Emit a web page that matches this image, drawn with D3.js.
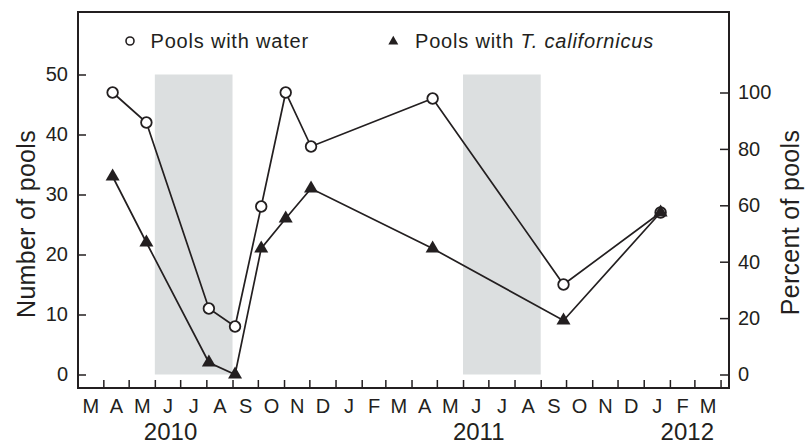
<!DOCTYPE html>
<html>
<head>
<meta charset="utf-8">
<script src="https://cdn.jsdelivr.net/npm/d3@7"></script>
<style>
  body { margin: 0; background: #fff; }
  svg { display: block; }
  text { font-family: "Liberation Sans", Arial, Helvetica, sans-serif; fill: #231f20; }
</style>
</head>
<body>
<svg id="chart" width="809" height="442"></svg>
<script>
// Survey dates and pool counts
const sampleDates = ["2010-04-12", "2010-05-22", "2010-08-04", "2010-09-04", "2010-10-05",
                     "2010-11-03", "2010-12-03", "2011-04-26", "2011-09-28", "2012-01-21"];
const poolsWithWater = [47, 42, 11, 8, 28, 47, 38, 46, 15, 27];
const poolsWithCopepods = [33, 22, 2, 0, 21, 26, 31, 21, 9, 27];
const totalPools = 47;

// Axis ticks and labels
const numberTicks = [0, 10, 20, 30, 40, 50];
const percentTicks = [0, 20, 40, 60, 80, 100];
const monthLabels = ["M", "A", "M", "J", "J", "A", "S", "O", "N", "D", "J", "F",
                     "M", "A", "M", "J", "J", "A", "S", "O", "N", "D", "J", "F", "M"];
const yearLabels = ["2010", "2011", "2012"];
const yearLabelDates = ["2010-06-19", "2011-06-19", "2012-02-21"];

// Dry summer periods (shaded)
const dryPeriods = [["2010-06-01", "2010-09-01"], ["2011-06-01", "2011-09-01"]];

const ink = "#231f20";
const parse = d3.utcParse("%Y-%m-%d");

const plot = { left: 78, right: 729, top: 12, bottom: 388 };

const x = d3.scaleUtc()
  .domain([parse("2010-03-02"), parse("2012-04-11")])
  .range([plot.left, plot.right]);

const y = d3.scaleLinear().domain([0, 50]).range([374.5, 74.5]);
const yPct = d3.scaleLinear().domain([0, 100]).range([y(0), y(totalPools)]);

const svg = d3.select("#chart");

// Shaded dry periods
svg.append("g").selectAll("rect")
  .data(dryPeriods)
  .join("rect")
  .attr("x", d => x(parse(d[0])))
  .attr("width", d => x(parse(d[1])) - x(parse(d[0])))
  .attr("y", y(50))
  .attr("height", y(0) - y(50))
  .attr("fill", "#dcdfe0");

// Left axis: number of pools
const leftAxis = svg.append("g")
  .attr("transform", `translate(${plot.left},0)`)
  .call(d3.axisLeft(y).tickValues(numberTicks).tickSizeInner(-8).tickSizeOuter(0).tickPadding(10));

// Right axis: percent of pools
const rightAxis = svg.append("g")
  .attr("transform", `translate(${plot.right},0)`)
  .call(d3.axisRight(yPct).tickValues(percentTicks).tickSizeInner(-9).tickSizeOuter(0).tickPadding(9));

// Bottom axis: month boundary ticks
const monthStarts = d3.utcMonth.range(parse("2010-04-01"), parse("2012-04-02"));
const tickAxis = svg.append("g")
  .attr("transform", `translate(0,${plot.bottom})`)
  .call(d3.axisBottom(x).tickValues(monthStarts).tickSizeInner(-8).tickSizeOuter(0).tickFormat(""));

// Month initials centred in each month
const months = d3.utcMonth.range(parse("2010-03-01"), parse("2012-04-01"));
const monthMids = months.map(m => new Date((+m + +d3.utcMonth.offset(m, 1)) / 2));
const monthAxis = svg.append("g")
  .attr("transform", `translate(0,${plot.bottom})`)
  .call(d3.axisBottom(x).tickValues(monthMids).tickSize(0).tickPadding(10.5)
    .tickFormat((d, i) => monthLabels[i]));

// Year labels under the month row
const yearAxis = svg.append("g")
  .attr("transform", `translate(0,${plot.bottom})`)
  .call(d3.axisBottom(x).tickValues(yearLabelDates.map(parse)).tickSize(0).tickPadding(52)
    .tickFormat((d, i) => yearLabels[i]));

[leftAxis, rightAxis, tickAxis, monthAxis, yearAxis].forEach(g => {
  g.select(".domain").remove();
  g.selectAll(".tick line").attr("stroke", ink).attr("stroke-width", 1.5);
  g.selectAll("text").attr("fill", ink).style("font-size", "20px");
});
yearAxis.selectAll("text").style("font-size", "24px").attr("dy", "0");

// Frame
svg.append("rect")
  .attr("x", plot.left).attr("y", plot.top)
  .attr("width", plot.right - plot.left).attr("height", plot.bottom - plot.top)
  .attr("fill", "none").attr("stroke", ink).attr("stroke-width", 2);

// Axis titles
svg.append("text")
  .attr("transform", `translate(35,224) rotate(-90)`)
  .attr("text-anchor", "middle")
  .style("font-size", "25px")
  .attr("letter-spacing", "0.3")
  .text("Number of pools");

svg.append("text")
  .attr("transform", `translate(798.5,222.5) rotate(-90)`)
  .attr("text-anchor", "middle")
  .style("font-size", "25px")
  .attr("letter-spacing", "0.3")
  .text("Percent of pools");

// Series
const waterData = sampleDates.map((d, i) => ({ date: parse(d), value: poolsWithWater[i] }));
const copeData = sampleDates.map((d, i) => ({ date: parse(d), value: poolsWithCopepods[i] }));

const line = d3.line().x(d => x(d.date)).y(d => y(d.value));

svg.append("path").datum(waterData)
  .attr("d", line).attr("fill", "none").attr("stroke", ink).attr("stroke-width", 1.7);
svg.append("path").datum(copeData)
  .attr("d", line).attr("fill", "none").attr("stroke", ink).attr("stroke-width", 1.7);

svg.append("g").selectAll("circle")
  .data(waterData)
  .join("circle")
  .attr("cx", d => x(d.date)).attr("cy", d => y(d.value))
  .attr("r", 5.3)
  .attr("fill", "#fff").attr("stroke", ink).attr("stroke-width", 1.8);

const triangle = d3.symbol().type(d3.symbolTriangle).size(85);
svg.append("g").selectAll("path")
  .data(copeData)
  .join("path")
  .attr("transform", d => `translate(${x(d.date)},${y(d.value)})`)
  .attr("d", triangle)
  .attr("fill", ink);

// Legend
const legend = svg.append("g");
legend.append("circle")
  .attr("cx", 130).attr("cy", 41).attr("r", 4)
  .attr("fill", "#fff").attr("stroke", ink).attr("stroke-width", 1.6);
legend.append("text")
  .attr("x", 150.5).attr("y", 48)
  .style("font-size", "20px").attr("letter-spacing", "0.8")
  .text("Pools with water");

legend.append("path")
  .attr("transform", "translate(393.3,41.5)")
  .attr("d", d3.symbol().type(d3.symbolTriangle).size(43))
  .attr("fill", ink);
const legendText = legend.append("text")
  .attr("x", 415).attr("y", 48)
  .style("font-size", "20px").attr("letter-spacing", "0.8");
legendText.append("tspan").text("Pools with ");
legendText.append("tspan").style("font-style", "italic").text("T. californicus");
</script>
</body>
</html>
